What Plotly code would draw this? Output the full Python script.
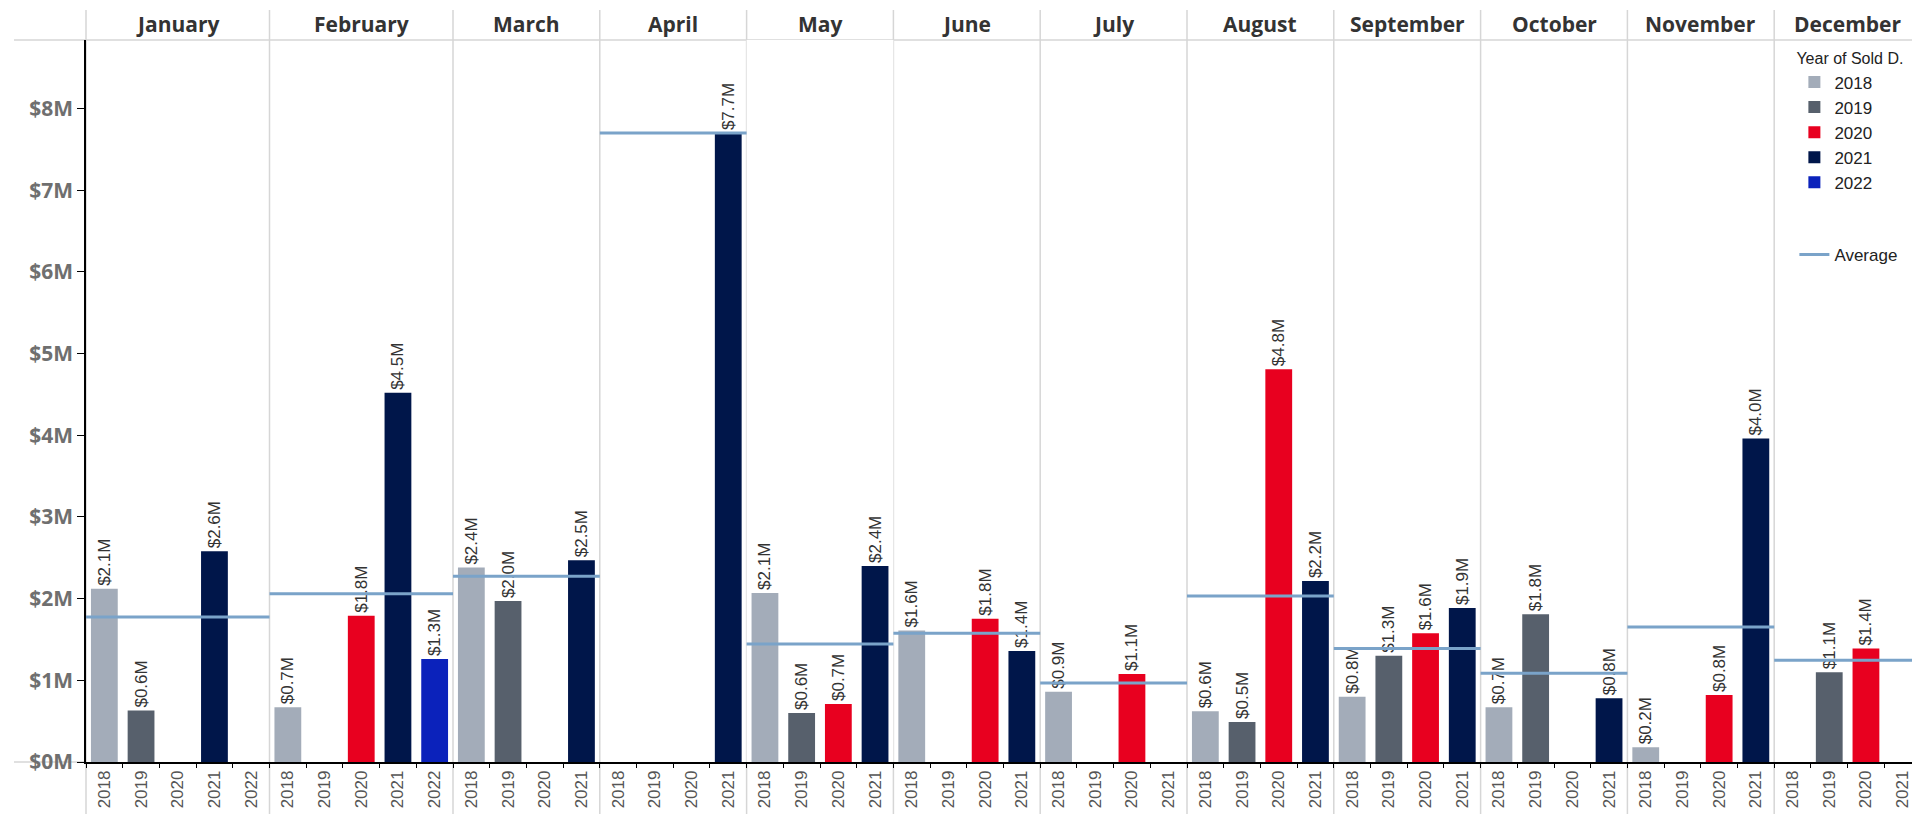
import plotly.graph_objects as go
from plotly.subplots import make_subplots


# -------------------------
# DATA (sales in $M)
# -------------------------
months = ["January", "February", "March", "April", "May", "June",
          "July", "August", "September", "October", "November", "December"]

years = ["2018", "2019", "2020", "2021", "2022"]

# how many year columns each month panel shows
years_per_month = [5, 5, 4, 4, 4, 4, 4, 4, 4, 4, 4, 4]

sales_2018 = [2.12, 0.67, 2.38, None, 2.07, 1.61, 0.86, 0.62, 0.80, 0.67, 0.18, None]
sales_2019 = [0.63, None, 1.97, None, 0.60, None, None, 0.49, 1.30, 1.81, None, 1.10]
sales_2020 = [None, 1.79, None, None, 0.71, 1.755, 1.077, 4.81, 1.575, None, 0.82, 1.39]
sales_2021 = [2.58, 4.52, 2.47, 7.70, 2.40, 1.36, None, 2.215, 1.885, 0.78, 3.96, None]
sales_2022 = [None, 1.26, None, None, None, None, None, None, None, None, None, None]

y_ticks = [0, 1, 2, 3, 4, 5, 6, 7, 8]
y_tick_labels = ["$0M", "$1M", "$2M", "$3M", "$4M", "$5M", "$6M", "$7M", "$8M"]

sales = {
    "2018": sales_2018,
    "2019": sales_2019,
    "2020": sales_2020,
    "2021": sales_2021,
    "2022": sales_2022,
}

colors = {
    "2018": "#a3acb9",
    "2019": "#57606c",
    "2020": "#e8001f",
    "2021": "#00164a",
    "2022": "#0b22bb",
}

avg_color = "#7aa3c9"
divider = "#d6d6d6"


# -------------------------
# FIGURE
# -------------------------
fig = make_subplots(
    rows=1,
    cols=12,
    shared_yaxes=True,
    horizontal_spacing=0,
    column_widths=years_per_month,
    subplot_titles=months
)

legend_done = set()

for i, month in enumerate(months):
    col = i + 1
    cats = years[:years_per_month[i]]

    month_vals = []
    for year in cats:
        v = sales[year][i]
        if v is None:
            continue
        month_vals.append(v)

        fig.add_trace(
            go.Bar(
                x=[year],
                y=[v],
                name=year,
                text=[f"${v:.1f}M"],
                textposition="outside",
                textangle=-90,
                constraintext="none",
                cliponaxis=False,
                textfont=dict(family="Liberation Sans", size=17, color="#333333"),
                marker=dict(color=colors[year], line=dict(width=0)),
                legendgroup="years",
                legendrank=int(year),
                showlegend=year not in legend_done,
                hovertemplate=month + " " + year + ": $%{y:.2f}M<extra></extra>"
            ),
            row=1,
            col=col
        )
        legend_done.add(year)

    # average line across the whole panel
    avg = sum(month_vals) / len(month_vals)
    fig.add_hline(
        y=avg,
        line=dict(color=avg_color, width=3),
        row=1,
        col=col,
        showlegend=(i == 0),
        name="Average",
        legendgroup="avg",
        legendrank=3000
    )

    fig.update_xaxes(
        type="category",
        categoryorder="array",
        categoryarray=cats,
        range=[-0.5, len(cats) - 0.5],
        row=1,
        col=col
    )

    # panel divider line (left edge of each panel)
    xref = "x domain" if col == 1 else f"x{col} domain"
    fig.add_shape(
        type="line", xref=xref, yref="paper",
        x0=0, x1=0, y0=-60 / 722, y1=752 / 722,
        line=dict(color=divider, width=1.5), layer="below"
    )
    if col == 12:
        fig.add_shape(
            type="line", xref=xref, yref="paper",
            x0=1, x1=1, y0=-60 / 722, y1=752 / 722,
            line=dict(color=divider, width=1.5), layer="below"
        )

# header line and left stub of baseline
fig.add_shape(type="line", xref="paper", yref="paper",
              x0=-72 / 1835, x1=1, y0=1, y1=1,
              line=dict(color=divider, width=1.5), layer="below")
fig.add_shape(type="line", xref="paper", yref="paper",
              x0=-72 / 1835, x1=0, y0=0, y1=0,
              line=dict(color=divider, width=1.5), layer="below")


# -------------------------
# AXES
# -------------------------
fig.update_xaxes(
    showline=True,
    linecolor="black",
    linewidth=1.5,
    ticks="outside",
    tickson="boundaries",
    ticklen=4,
    tickcolor="black",
    tickangle=-90,
    tickfont=dict(family="Liberation Sans", size=17, color="#555555"),
    showgrid=False,
    zeroline=False
)

fig.update_yaxes(
    range=[0, 8.84],
    showgrid=False,
    zeroline=False,
    showline=False,
    ticks="",
    showticklabels=False
)

fig.update_annotations(
    font=dict(family="Open Sans", size=21, color="#333333", weight="bold"),
    yshift=0
)


# -------------------------
# LAYOUT
# -------------------------
fig.update_layout(
    width=1920,
    height=814,
    barmode="overlay",
    bargap=0.27,
    plot_bgcolor="white",
    paper_bgcolor="white",
    margin=dict(l=78, r=7, t=32, b=60),
    yaxis=dict(
        range=[0, 8.84],
        tickmode="array",
        tickvals=y_ticks,
        ticktext=y_tick_labels,
        showticklabels=True,
        showline=True,
        linecolor="black",
        linewidth=1.5,
        ticks="outside",
        ticklen=7,
        tickcolor="black",
        tickfont=dict(family="Open Sans", size=21, color="#6f6f6f", weight="bold")
    ),
    legend=dict(
        title=dict(text="Year of Sold D.",
                   font=dict(family="Liberation Sans", size=16, color="#222222")),
        font=dict(family="Liberation Sans", size=17, color="#222222"),
        x=0.931,
        xanchor="left",
        y=0.995,
        yanchor="top",
        bgcolor="white",
        traceorder="grouped",
        tracegroupgap=47,
        itemwidth=30
    )
)

fig.write_html("out.html")
